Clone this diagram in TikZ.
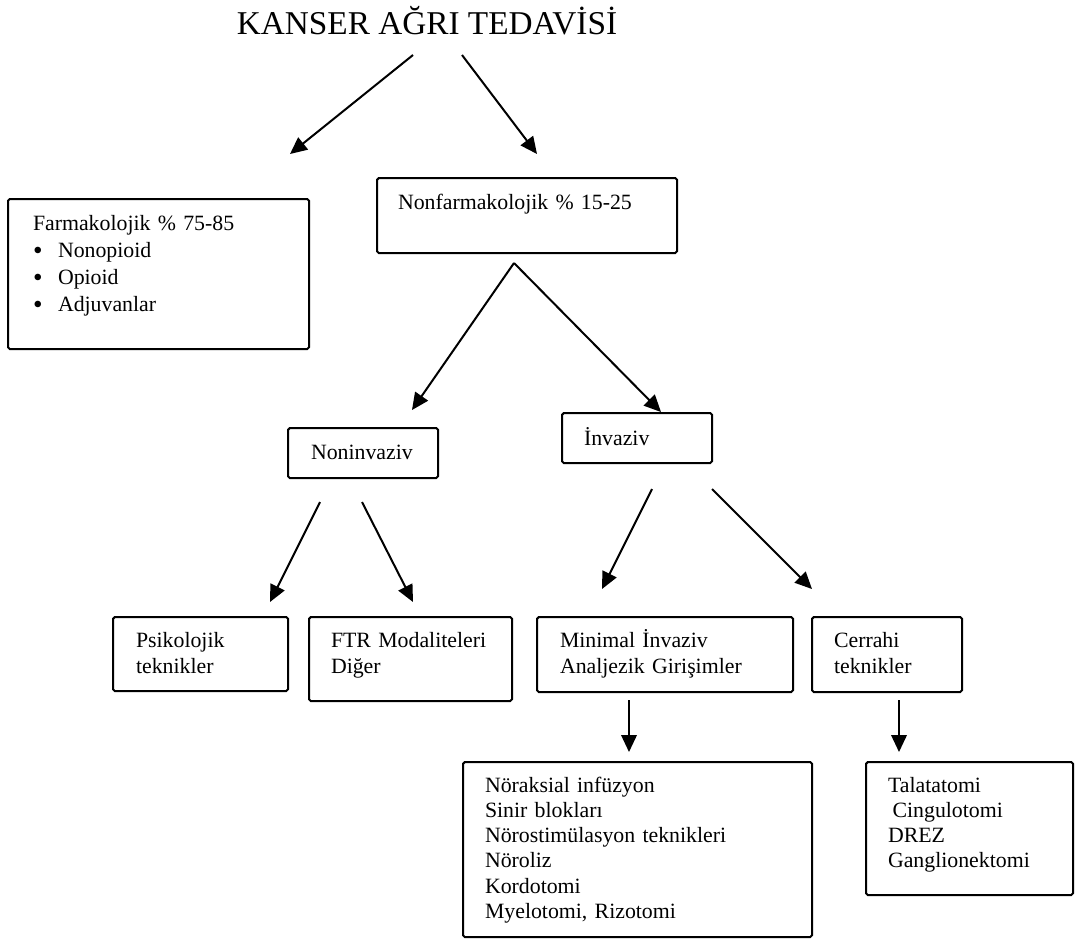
\documentclass[tikz,border=0pt]{standalone}
\usepackage{fontspec}
\setmainfont{Liberation Serif}
\usetikzlibrary{arrows.meta,calc,fit}

\begin{document}
\begin{tikzpicture}[
    x=0.55pt, y=-0.55pt,
    >={Triangle[length=9.3pt,width=8.5pt]},
    line width=1.1pt,
    every node/.style={font=\fontsize{12}{14.3}\selectfont, inner sep=0pt},
    box/.style={draw, line width=1.1pt, rounded corners=1pt},
    txt/.style={anchor=base west, align=left, text width=8cm},
  ]
  \useasboundingbox (0,0) rectangle (1075,938);

  % ---- title -------------------------------------------------------
  \node[anchor=base, font=\fontsize{18.3}{20}\selectfont] (title) at (427,34)
    {KANSER AĞRI TEDAVİSİ};

  % ---- boxes (corners in picture units) ------------------------------
  \node[box, fit={(8,199) (309,349)}]    (farm)     {};
  \node[box, fit={(377,178) (677,253)}]  (nonfarm)  {};
  \node[box, fit={(288,428) (438,478)}]  (noninv)   {};
  \node[box, fit={(562,413) (712,463)}]  (inv)      {};
  \node[box, fit={(113,617) (288,691)}]  (psik)     {};
  \node[box, fit={(309,617) (512,701)}]  (ftr)      {};
  \node[box, fit={(537,617) (793,692)}]  (minimal)  {};
  \node[box, fit={(812,617) (962,692)}]  (cerrahi)  {};
  \node[box, fit={(463,762) (812,937)}]  (invlist)  {};
  \node[box, fit={(866,762) (1073,895)}] (cerrlist) {};

  % ---- box texts -----------------------------------------------------
  \newcommand{\blt}{\makebox[13.75pt][l]{\raisebox{-1.1pt}{\fontsize{15}{15}\selectfont\textbullet}}}
  \node[txt, font=\fontsize{12}{15}\selectfont] (farm-t) at (32,230)
    {Farmakolojik \% 75-85\\ \blt Nonopioid\\ \blt Opioid\\ \blt Adjuvanlar};
  \node[txt] (nonfarm-t) at (397,209) {Nonfarmakolojik \% 15-25};
  \node[txt] (noninv-t)  at (310,459) {Noninvaziv};
  \node[txt] (inv-t)     at (583,445) {İnvaziv};
  \node[txt] (psik-t)    at (135,647) {Psikolojik\\ teknikler};
  \node[txt] (ftr-t)     at (330,647) {FTR Modaliteleri\\ Diğer};
  \node[txt] (minimal-t) at (559,647) {Minimal İnvaziv\\ Analjezik Girişimler};
  \node[txt] (cerrahi-t) at (833,647) {Cerrahi\\ teknikler};
  \node[txt, font=\fontsize{12}{13.9}\selectfont] (invlist-t) at (484,792)
    {Nöraksial infüzyon\\ Sinir blokları\\ Nörostimülasyon teknikleri\\
     Nöroliz\\ Kordotomi\\ Myelotomi, Rizotomi};
  \node[txt, font=\fontsize{12}{13.9}\selectfont] (cerrlist-t) at (887,792)
    {Talatatomi\\ \hspace*{2.5pt}Cingulotomi\\ DREZ\\ Ganglionektomi};

  % ---- arrow end points ----------------------------------------------
  \coordinate (title-l)   at (413,55);
  \coordinate (title-r)   at (462,55);
  \coordinate (farm-in)   at (290,154);
  \coordinate (nonf-in)   at (537,154);
  \coordinate (nonf-out)  at (514,263);
  \coordinate (noninv-in) at (412,410);
  \coordinate (inv-in)    at (661,412);
  \coordinate (noninv-l)  at (320,502);
  \coordinate (noninv-r)  at (362,502);
  \coordinate (psik-in)   at (270,602);
  \coordinate (ftr-in)    at (413,602);
  \coordinate (inv-l)     at (652,489);
  \coordinate (inv-r)     at (712,489);
  \coordinate (min-in)    at (602,589);
  \coordinate (cerr-in)   at (812,589);
  \coordinate (min-out)   at (629,700);
  \coordinate (ilist-in)  at (629,752);
  \coordinate (cerr-out)  at (899,700);
  \coordinate (clist-in)  at (899,752);

  % ---- arrows --------------------------------------------------------
  \draw[->] (title-l)  -- (farm-in);
  \draw[->] (title-r)  -- (nonf-in);
  \draw[->] (nonf-out) -- (noninv-in);
  \draw[->] (nonf-out) -- (inv-in);
  \draw[->] (noninv-l) -- (psik-in);
  \draw[->] (noninv-r) -- (ftr-in);
  \draw[->] (inv-l)    -- (min-in);
  \draw[->] (inv-r)    -- (cerr-in);
  \draw[->] (min-out)  -- (ilist-in);
  \draw[->] (cerr-out) -- (clist-in);

\end{tikzpicture}
\end{document}
